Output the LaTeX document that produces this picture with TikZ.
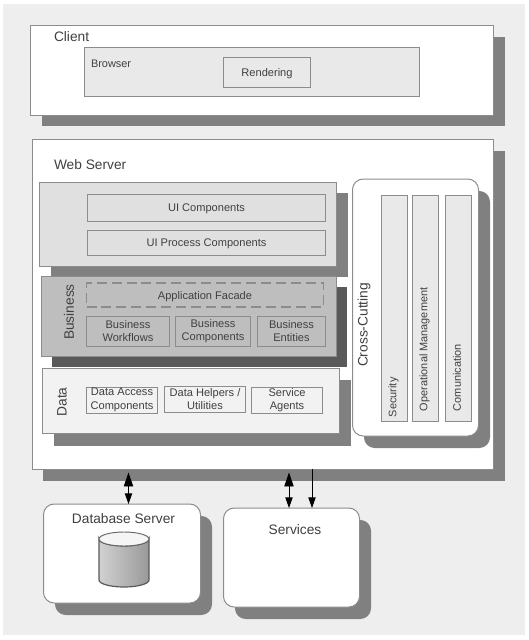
\documentclass[tikz,border=0pt]{standalone}
\usepackage{fontspec}
\setmainfont{Liberation Sans}
\usetikzlibrary{arrows.meta}
\definecolor{bgc}{HTML}{EEEEEE}
\definecolor{sh}{HTML}{808080}
\definecolor{shd}{HTML}{595959}
\definecolor{ln}{HTML}{8C8C8C}
\definecolor{tx}{HTML}{404040}
\definecolor{lt}{HTML}{E9E9E9}
\definecolor{ui}{HTML}{E0E0E0}
\definecolor{biz}{HTML}{BEBEBE}
\definecolor{dat}{HTML}{F2F2F2}
\tikzset{
  x=0.75pt,y=-0.75pt,
  base/.style={draw=ln,line width=0.75pt,inner sep=0pt,outer sep=0pt,text=tx,align=center,font=\fontsize{8.3}{10}\selectfont},
  card/.style={base,fill=white},
  lightbox/.style={base,fill=lt},
  uibox/.style={base,fill=ui},
  bizbox/.style={base,fill=biz},
  datbox/.style={base,fill=dat},
  dashbox/.style={base,dash pattern=on 7.5pt off 3.7pt,line width=0.9pt},
  roundcard/.style={base,fill=white,rounded corners=8pt},
  labelbig/.style={inner sep=0pt,outer sep=0pt,text=tx,font=\fontsize{10.3}{12}\selectfont},
  labelsmall/.style={inner sep=0pt,outer sep=0pt,text=tx,font=\fontsize{8.2}{9.5}\selectfont},
  shadowbox/.style={fill=sh,draw=none},
  shadowdark/.style={fill=shd,draw=none},
  shadowround/.style={fill=sh,draw=none,rounded corners=8pt},
  link/.style={draw=black,line width=0.7pt},
  bothlink/.style={link,{Triangle[width=7pt,length=10.5pt]}-{Triangle[width=5.5pt,length=8pt]},shorten <=2.6pt},
  onelink/.style={link,-{Triangle[width=5.5pt,length=8pt]}},
}
\newcommand{\bx}[7]{%
  \pgfmathsetmacro{\cxx}{(#3+#5)/2+0.5}\pgfmathsetmacro{\cyy}{(#4+#6)/2}%
  \pgfmathsetmacro{\www}{(#5-#3)*0.75}\pgfmathsetmacro{\hhh}{(#6-#4)*0.75}%
  \node[#2,minimum width=\www pt,minimum height=\hhh pt] (#1) at (\cxx,\cyy) {#7};}
\newcommand{\dn}{\rule{0pt}{7.8pt}}
\begin{document}
\begin{tikzpicture}
\useasboundingbox (0,0) rectangle (529,640);
\fill[white] (0,0) rectangle (529,640);
\fill[bgc] (3,4) rectangle (525,635);
% Client
\fill[shadowbox] (42,37) rectangle (505,126);
\bx{client}{card}{30}{25}{493}{115}{}
\node[labelbig,anchor=west] (clientl) at (54,37) {Client};
\bx{browser}{lightbox}{84}{47.5}{419}{96.5}{}
\node[labelsmall,anchor=west] (browserl) at (91,64) {Browser};
\bx{rendering}{lightbox}{223}{57}{310}{87}{\dn Rendering}
% Web server
\fill[shadowbox] (43,151) rectangle (505,481);
\bx{web}{card}{32}{139}{493}{469}{}
\node[labelbig,anchor=west] (webl) at (54,165) {Web Server};
% UI layer
\fill[shadowbox] (51,193) rectangle (348,277);
\bx{uilayer}{uibox}{39}{182}{336}{266}{}
\bx{uicomp}{uibox}{87}{194}{325}{221}{\dn UI Components}
\bx{uiproc}{uibox}{87}{230}{325}{255}{\dn UI Process Components}
% Business layer
\fill[shadowdark] (52,287) rectangle (347,367);
\bx{bizlayer}{bizbox}{41}{276}{336}{356}{}
\node[labelbig,rotate=90] (bizl) at (69,312) {Business};
\bx{facade}{dashbox}{86}{283}{323}{307}{\dn Application Facade}
\bx{bwf}{bizbox}{86}{316}{169}{346}{Business\\Workflows}
\bx{bcp}{bizbox}{175}{316}{250}{346}{Business\\Components}
\bx{ben}{bizbox}{257}{316}{325}{346}{Business\\Entities}
% Data layer
\fill[shadowbox] (54,380) rectangle (351,446);
\bx{datalayer}{datbox}{42}{368}{339}{433}{}
\node[labelbig,rotate=90] (datal) at (62,402) {Data};
\bx{dac}{datbox}{86}{387}{157}{413}{Data Access\\Components}
\bx{dhu}{datbox}{164}{386}{245}{412}{Data Helpers /\\Utilities}
\bx{sag}{datbox}{251}{387}{322}{413}{Service\\Agents}
% Cross-cutting
\fill[shadowround] (364,191) rectangle (490,448);
\bx{cross}{roundcard}{352}{179}{478}{436}{}
\node[labelbig,rotate=90] (crossl) at (364,325) {Cross-Cutting};
\bx{sec}{lightbox}{381}{195}{407}{421}{}
\bx{opm}{lightbox}{412}{195}{438}{421}{}
\bx{com}{lightbox}{445}{195}{471}{421}{}
\node[labelsmall,rotate=90,anchor=west] (secl) at (393.5,417) {Security};
\node[labelsmall,rotate=90,anchor=west] (opml) at (424.5,411) {Operational Management};
\node[labelsmall,rotate=90,anchor=west] (coml) at (457,411) {Comunication};
% Database
\fill[shadowround] (55,516) rectangle (212,615);
\bx{db}{roundcard}{43}{504}{200}{603}{}
\node[labelbig] (dbl) at (123.5,519) {Database Server};
\path[left color=black!18,middle color=black!22,right color=black!40,draw=black!65,line width=0.9pt]
  (99,539) -- (99,580) arc[start angle=180,end angle=0,x radius=25,y radius=7] -- (149,539)
  arc[start angle=0,end angle=180,x radius=25,y radius=7] -- cycle;
\draw[fill=white!96!black,draw=black!60,line width=0.7pt] (124,539) ellipse [x radius=25,y radius=7];
% Services
\fill[shadowround] (235,520) rectangle (371,619);
\bx{svc}{roundcard}{223}{508}{359}{607}{}
\node[labelbig] (svcl) at (295,530) {Services};
% Connectors
\coordinate (a1) at (128.5,470);
\coordinate (a2) at (289,470);
\coordinate (a3) at (312,470);
\draw[bothlink] (web.south -| a1) -- (db.north -| a1);
\draw[bothlink] (web.south -| a2) -- (svc.north -| a2);
\draw[onelink] (web.south -| a3) -- (svc.north -| a3);
\end{tikzpicture}
\end{document}
